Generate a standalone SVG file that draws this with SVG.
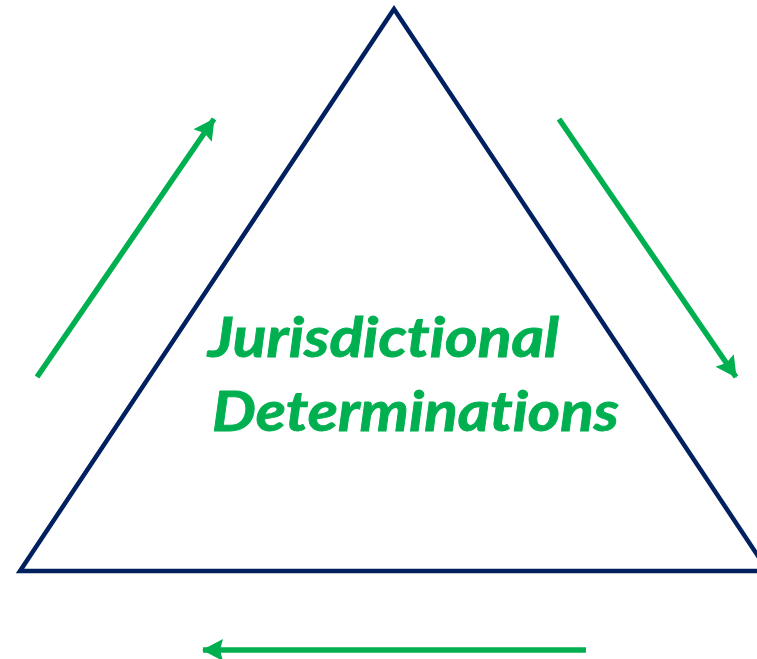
<svg xmlns="http://www.w3.org/2000/svg" width="757" height="659" viewBox="0 0 757 659">
<style>
.tri{fill:none;stroke:#002060;stroke-width:4.5;stroke-linejoin:miter}
.arr{fill:none;stroke:#00B050;stroke-width:5.5;marker-end:url(#ah)}
.lbl{font-family:Lato,"Open Sans","Liberation Sans",sans-serif;font-weight:bold;font-style:italic;fill:#00B050;stroke:#00B050;stroke-width:0.9;font-size:55px;font-variant-ligatures:none;font-feature-settings:"liga" 0,"dlig" 0}
</style>
<defs>
<marker id="ah" markerUnits="userSpaceOnUse" markerWidth="21" markerHeight="22" viewBox="0 0 21 22" refX="20" refY="11" orient="auto">
<path d="M0,0 L21,11 L0,22 L3,11 Z" fill="#00B050"/>
</marker>
</defs>
<rect width="757" height="659" fill="#fff"/>
<g id="triangle">
<polygon class="tri" points="394,9 20,571 768,571"/>
</g>
<g id="label">
<text class="lbl" x="208" y="357" textLength="351" lengthAdjust="spacingAndGlyphs">Jurisdictional</text>
<text class="lbl" x="212" y="431" textLength="407" lengthAdjust="spacingAndGlyphs">Determinations</text>
</g>
<g id="connectors">
<line class="arr" x1="37" y1="377" x2="214" y2="119"/>
<line class="arr" x1="559" y1="119" x2="736" y2="377"/>
<line class="arr" x1="586" y1="650" x2="203" y2="650"/>
</g>
</svg>
